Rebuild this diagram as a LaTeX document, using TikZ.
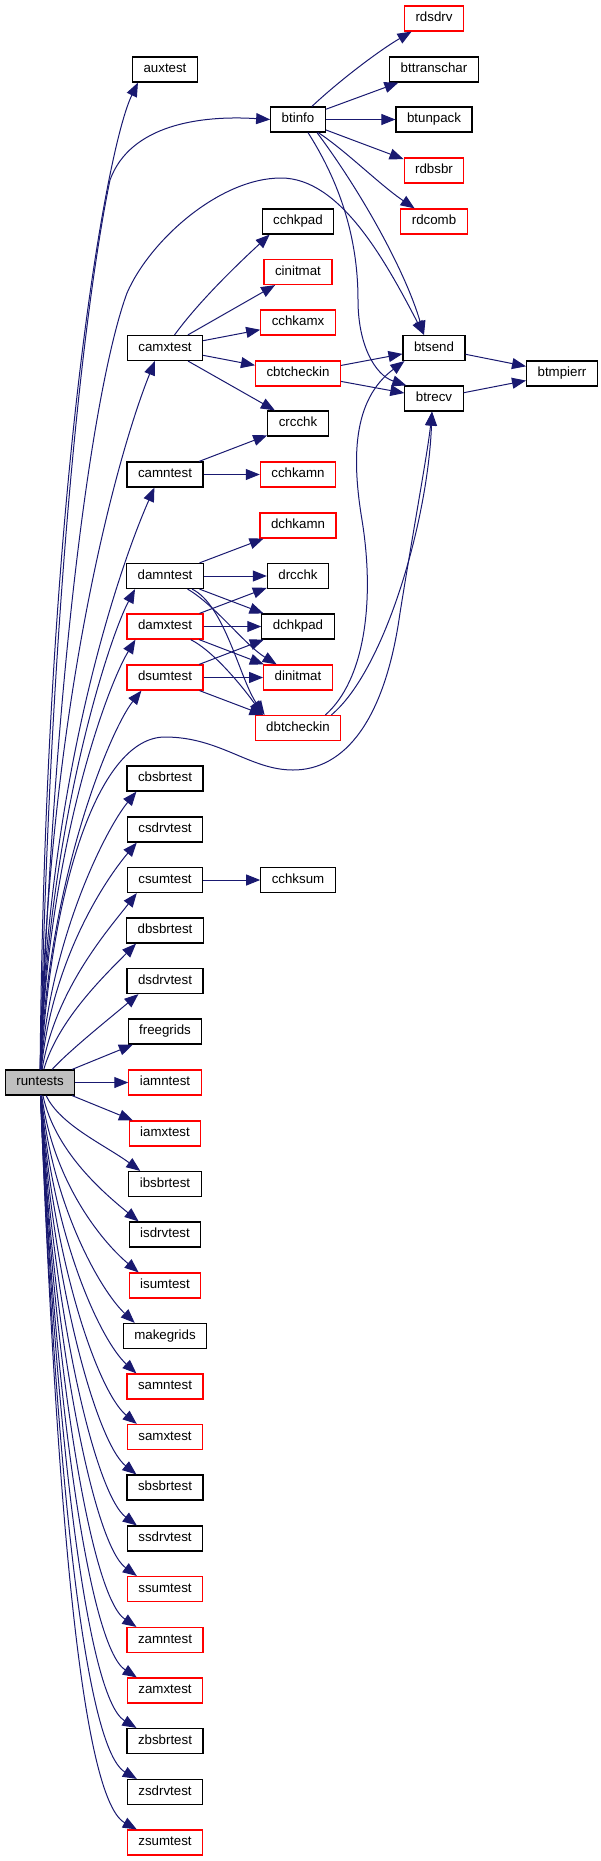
\documentclass[tikz,border=0pt]{standalone}
\usepackage{fontspec}
\setmainfont{Liberation Sans}
\usetikzlibrary{arrows.meta, calc}
\definecolor{EdgeBlue}{HTML}{191970}
\definecolor{BoxRed}{HTML}{FF0000}
\definecolor{RootGrey}{HTML}{BFBFBF}
\tikzset{
    fnnode/.style={rectangle, draw=black, fill=white, line width=1.2pt, minimum height=25pt, inner xsep=11pt, inner ysep=0pt, text height=9.6pt, text depth=2.8pt, font=\fontsize{13.3}{16}\selectfont},
    fnred/.style={fnnode, draw=BoxRed},
    fnroot/.style={fnnode, fill=RootGrey},
    callarrow/.style={-{Triangle[length=14pt, width=11pt]}, line width=1pt, color=EdgeBlue},
}
\begin{document}
\begin{tikzpicture}[x=1pt, y=-1pt]
    \useasboundingbox (0,0) rectangle (601,1861);

    % Radice
    \node[fnroot] (runtests) at (40,1082.5) {runtests};

    % Prima colonna
    \node[fnnode] (auxtest) at (165,69.5) {auxtest};
    \node[fnnode] (camxtest) at (165,348) {camxtest};
    \node[fnnode] (camntest) at (165,474.5) {camntest};
    \node[fnnode] (damntest) at (165,576) {damntest};
    \node[fnred] (damxtest) at (165,626.5) {damxtest};
    \node[fnred] (dsumtest) at (165,677.5) {dsumtest};
    \node[fnnode] (cbsbrtest) at (165,778.5) {cbsbrtest};
    \node[fnnode] (csdrvtest) at (165,829.5) {csdrvtest};
    \node[fnnode] (csumtest) at (165,880) {csumtest};
    \node[fnnode] (dbsbrtest) at (165,930.5) {dbsbrtest};
    \node[fnnode] (dsdrvtest) at (165,981) {dsdrvtest};
    \node[fnnode] (freegrids) at (165,1031.5) {freegrids};
    \node[fnred] (iamntest) at (165,1082.5) {iamntest};
    \node[fnred] (iamxtest) at (165,1133.5) {iamxtest};
    \node[fnnode] (ibsbrtest) at (165,1184) {ibsbrtest};
    \node[fnnode] (isdrvtest) at (165,1234.5) {isdrvtest};
    \node[fnred] (isumtest) at (165,1285.5) {isumtest};
    \node[fnnode] (makegrids) at (165,1336) {makegrids};
    \node[fnred] (samntest) at (165,1386.5) {samntest};
    \node[fnred] (samxtest) at (165,1437) {samxtest};
    \node[fnnode] (sbsbrtest) at (165,1487.5) {sbsbrtest};
    \node[fnnode] (ssdrvtest) at (165,1538.5) {ssdrvtest};
    \node[fnred] (ssumtest) at (165,1589) {ssumtest};
    \node[fnred] (zamntest) at (165,1640) {zamntest};
    \node[fnred] (zamxtest) at (165,1690.5) {zamxtest};
    \node[fnnode] (zbsbrtest) at (165,1741) {zbsbrtest};
    \node[fnnode] (zsdrvtest) at (165,1792) {zsdrvtest};
    \node[fnred] (zsumtest) at (165,1842.5) {zsumtest};

    % Seconda colonna
    \node[fnnode] (btinfo) at (298,119.5) {btinfo};
    \node[fnnode] (cchkpad) at (298,221.5) {cchkpad};
    \node[fnred] (cinitmat) at (298,272) {cinitmat};
    \node[fnred] (cchkamx) at (298,322.5) {cchkamx};
    \node[fnred] (cbtcheckin) at (298,373.5) {cbtcheckin};
    \node[fnnode] (crcchk) at (298,423.5) {crcchk};
    \node[fnred] (cchkamn) at (298,474.5) {cchkamn};
    \node[fnred] (dchkamn) at (298,525.5) {dchkamn};
    \node[fnnode] (drcchk) at (298,576) {drcchk};
    \node[fnnode] (dchkpad) at (298,626.5) {dchkpad};
    \node[fnred] (dinitmat) at (298,677.5) {dinitmat};
    \node[fnred] (dbtcheckin) at (298,728) {dbtcheckin};
    \node[fnnode] (cchksum) at (298,880) {cchksum};

    % Terza colonna
    \node[fnred] (rdsdrv) at (434,18.5) {rdsdrv};
    \node[fnnode] (bttranschar) at (434,69.5) {bttranschar};
    \node[fnnode] (btunpack) at (434,119.5) {btunpack};
    \node[fnred] (rdbsbr) at (434,170.5) {rdbsbr};
    \node[fnred] (rdcomb) at (434,221.5) {rdcomb};
    \node[fnnode] (btsend) at (434,348) {btsend};
    \node[fnnode] (btrecv) at (434,398.5) {btrecv};
    \node[fnnode] (btmpierr) at (562,373.5) {btmpierr};

    % runtests verso l'alto
    \draw[callarrow] (runtests) .. controls (45,500) and (105,150) .. ([xshift=6pt]auxtest.south west);
    \draw[callarrow] (runtests) .. controls (50,600) and (85,300) .. (110,180) .. controls (130,125) and (200,115) .. (btinfo.west);
    \draw[callarrow] (runtests) .. controls (55,650) and (95,380) .. (127,293) .. controls (150,240) and (220,178) .. (281,178) .. controls (340,178) and (385,260) .. ([xshift=-10pt]btsend.north);
    \draw[callarrow] (runtests) .. controls (47,715) and (115,460) .. ([xshift=28pt]camxtest.south west);
    \draw[callarrow] (runtests) .. controls (47,780) and (118,570) .. ([xshift=28pt]camntest.south west);
    \draw[callarrow] (runtests) .. controls (47,830) and (108,640) .. ([xshift=9pt]damntest.south west);
    \draw[callarrow] (runtests) .. controls (47,855) and (105,690) .. ([xshift=9pt]damxtest.south west);
    \draw[callarrow] (runtests) .. controls (48,880) and (110,730) .. ([xshift=15pt]dsumtest.south west);
    \draw[callarrow] (runtests) .. controls (52,880) and (100,737) .. (165,737) .. controls (220,737) and (250,770) .. (293,770) .. controls (345,770) and (385,720) .. (400,613) .. controls (415,520) and (428,450) .. ([xshift=-2pt]btrecv.south);
    \draw[callarrow] (runtests) .. controls (50,940) and (105,830) .. ([xshift=10pt]cbsbrtest.south west);
    \draw[callarrow] (runtests) .. controls (52,960) and (105,880) .. ([xshift=10pt]csdrvtest.south west);
    \draw[callarrow] (runtests) .. controls (55,990) and (108,930) .. ([xshift=10pt]csumtest.south west);
    \draw[callarrow] (runtests) .. controls (58,1020) and (105,975) .. ([xshift=10pt]dbsbrtest.south west);
    \draw[callarrow] (runtests) .. controls (70,1050) and (110,1018) .. ([xshift=12pt]dsdrvtest.south west);
    \draw[callarrow] (runtests) -- (freegrids);
    \draw[callarrow] (runtests) -- (iamntest);

    % runtests verso il basso
    \draw[callarrow] (runtests) -- (iamxtest);
    \draw[callarrow] (runtests) .. controls (60,1125) and (105,1145) .. ([xshift=12pt]ibsbrtest.north west);
    \draw[callarrow] (runtests) .. controls (55,1150) and (100,1190) .. ([xshift=10pt]isdrvtest.north west);
    \draw[callarrow] (runtests) .. controls (53,1180) and (100,1240) .. ([xshift=10pt]isumtest.north west);
    \draw[callarrow] (runtests) .. controls (52,1205) and (100,1290) .. ([xshift=12pt]makegrids.north west);
    \draw[callarrow] (runtests) .. controls (52,1235) and (100,1340) .. ([xshift=10pt]samntest.north west);
    \draw[callarrow] (runtests) .. controls (52,1260) and (98,1392) .. ([xshift=10pt]samxtest.north west);
    \draw[callarrow] (runtests) .. controls (52,1285) and (97,1443) .. ([xshift=10pt]sbsbrtest.north west);
    \draw[callarrow] (runtests) .. controls (52,1310) and (95,1494) .. ([xshift=10pt]ssdrvtest.north west);
    \draw[callarrow] (runtests) .. controls (52,1335) and (93,1544) .. ([xshift=10pt]ssumtest.north west);
    \draw[callarrow] (runtests) .. controls (53,1360) and (90,1596) .. ([xshift=10pt]zamntest.north west);
    \draw[callarrow] (runtests) .. controls (53,1385) and (88,1646) .. ([xshift=10pt]zamxtest.north west);
    \draw[callarrow] (runtests) .. controls (54,1410) and (85,1697) .. ([xshift=10pt]zbsbrtest.north west);
    \draw[callarrow] (runtests) .. controls (54,1435) and (82,1747) .. ([xshift=10pt]zsdrvtest.north west);
    \draw[callarrow] (runtests) .. controls (55,1460) and (78,1797) .. ([xshift=10pt]zsumtest.north west);

    % btinfo
    \draw[callarrow] (btinfo) .. controls (340,80) and (380,50) .. (rdsdrv);
    \draw[callarrow] (btinfo) -- (bttranschar);
    \draw[callarrow] (btinfo) -- (btunpack);
    \draw[callarrow] (btinfo) -- (rdbsbr);
    \draw[callarrow] (btinfo) .. controls (345,150) and (380,185) .. (rdcomb);
    \draw[callarrow] ([xshift=19pt]btinfo.south) .. controls (360,190) and (405,270) .. ([xshift=-10pt]btsend.north);
    \draw[callarrow] ([xshift=10pt]btinfo.south) .. controls (335,175) and (358,230) .. (358,300) .. controls (358,345) and (375,375) .. ([xshift=2pt]btrecv.north west);

    % camxtest, camntest
    \draw[callarrow] (camxtest) .. controls (200,300) and (240,262) .. ([xshift=8pt]cchkpad.south west);
    \draw[callarrow] (camxtest) -- (cinitmat);
    \draw[callarrow] (camxtest) -- (cchkamx);
    \draw[callarrow] (camxtest) -- (cbtcheckin);
    \draw[callarrow] (camxtest) -- (crcchk);
    \draw[callarrow] (camntest) -- (crcchk);
    \draw[callarrow] (camntest) -- (cchkamn);
    \draw[callarrow] (cbtcheckin) -- (btsend);
    \draw[callarrow] (cbtcheckin) -- (btrecv);
    \draw[callarrow] (btsend) -- (btmpierr);
    \draw[callarrow] (btrecv) -- (btmpierr);

    % damntest, damxtest, dsumtest
    \draw[callarrow] (damntest) -- (dchkamn);
    \draw[callarrow] (damntest) -- (drcchk);
    \draw[callarrow] (damntest) -- (dchkpad);
    \draw[callarrow] (damntest) .. controls (215,605) and (245,645) .. (dinitmat);
    \draw[callarrow] (damntest) .. controls (225,605) and (240,680) .. ([xshift=10pt]dbtcheckin.north west);
    \draw[callarrow] (damxtest) -- (drcchk);
    \draw[callarrow] (damxtest) -- (dchkpad);
    \draw[callarrow] (damxtest) -- (dinitmat);
    \draw[callarrow] (damxtest) .. controls (215,652) and (245,690) .. ([xshift=8pt]dbtcheckin.north west);
    \draw[callarrow] (dsumtest) -- (dchkpad);
    \draw[callarrow] (dsumtest) -- (dinitmat);
    \draw[callarrow] (dsumtest) -- (dbtcheckin);
    \draw[callarrow] ([xshift=-16pt]dbtcheckin.north east) .. controls (365,680) and (375,600) .. (362,520) .. controls (352,460) and (352,400) .. ([xshift=2pt]btsend.south west);
    \draw[callarrow] ([xshift=-10pt]dbtcheckin.north east) .. controls (385,670) and (428,520) .. ([xshift=-2pt]btrecv.south);

    % csumtest
    \draw[callarrow] (csumtest) -- (cchksum);
\end{tikzpicture}
\end{document}
